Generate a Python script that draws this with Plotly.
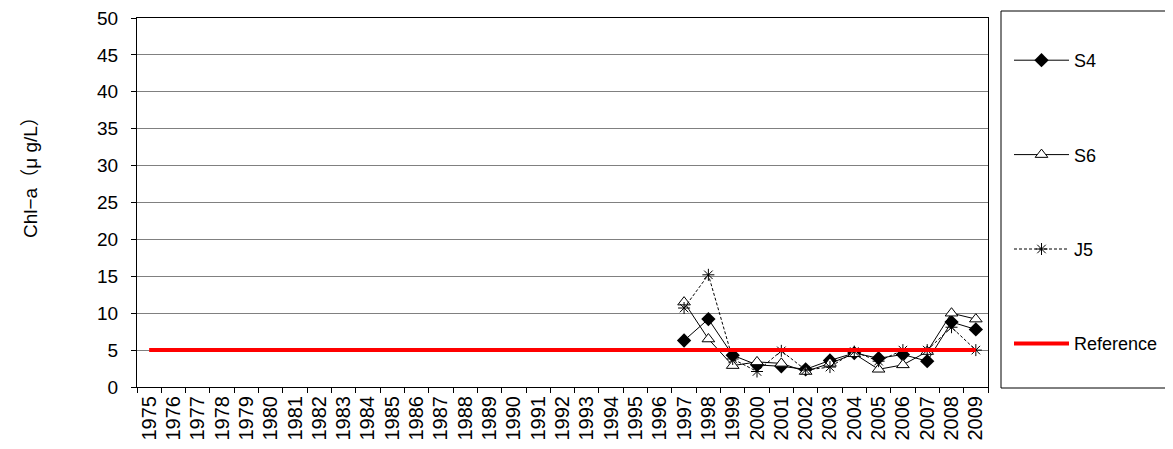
import plotly.graph_objects as go

years = [str(y) for y in range(1975, 2010)]
pad = [None] * 22  # 1975-1996 no data

s4_vals = [6.3, 9.2, 4.3, 3.0, 2.8, 2.4, 3.6, 4.6, 3.9, 4.4, 3.5, 8.8, 7.8]
s6_vals = [11.5, 6.5, 2.9, 3.4, 3.2, 2.1, 3.2, 4.5, 2.4, 3.0, 4.8, 10.0, 9.2]
j5_vals = [10.7, 15.2, 3.8, 2.1, 4.9, 2.3, 2.7, 4.8, 3.5, 5.0, 5.0, 8.1, 5.0]
reference = [5] * len(years)

S4 = pad + s4_vals
S6 = pad + s6_vals
J5 = pad + j5_vals

FONT = "Liberation Sans, Arial, Noto Sans CJK JP, sans-serif"

L, R, T, B = 129, 193, 10, 70
PW, PH = 1173 - L - R, 449 - T - B


def px(xp):
    return (xp - L) / PW


def py(yp):
    return (449 - B - yp) / PH


fig = go.Figure()
fig.add_trace(go.Scatter(
    x=years, y=S4, name="S4", mode="lines+markers", legendgroup="a",
    line=dict(color="black", width=1),
    marker=dict(symbol="diamond", size=11, color="black"),
))
fig.add_trace(go.Scatter(
    x=years, y=S6, name="S6", mode="lines+markers", legendgroup="b",
    line=dict(color="black", width=1),
    marker=dict(symbol="triangle-up", size=11, color="white",
                line=dict(color="black", width=1)),
))
fig.add_trace(go.Scatter(
    x=years, y=J5, name="J5", mode="lines+markers", legendgroup="c",
    line=dict(color="black", width=1, dash="3px,2px"),
    marker=dict(symbol="asterisk-open", size=10, color="black",
                line=dict(color="black", width=1)),
))
fig.add_trace(go.Scatter(
    x=years, y=reference, name="Reference", mode="lines", legendgroup="d",
    line=dict(color="#ff0000", width=4),
))

fig.update_layout(
    width=1173, height=449,
    margin=dict(l=L, r=R, t=T, b=B, autoexpand=False),
    paper_bgcolor="white", plot_bgcolor="white",
    font=dict(family=FONT, size=18, color="black"),
    showlegend=True,
    legend=dict(
        x=px(1001), y=py(34), xanchor="left", yanchor="top",
        bgcolor="rgba(0,0,0,0)", borderwidth=0, itemwidth=55,
        tracegroupgap=68, font=dict(size=18),
    ),
    xaxis=dict(
        type="category", range=[-0.5, 34.5], showline=True, linecolor="black",
        linewidth=1, mirror=True, ticks="outside", tickson="boundaries",
        ticklen=5, tickcolor="black", tickangle=-90, showgrid=False,
        tickfont=dict(size=20), automargin=False,
    ),
    yaxis=dict(
        range=[0, 50], dtick=5, showline=True, linecolor="black",
        linewidth=1, mirror=True, ticks="outside", ticklen=5,
        tickcolor="black", showgrid=True, gridcolor="#808080",
        gridwidth=1, tickfont=dict(size=19), zeroline=False,
        ticklabeloverflow="allow", automargin=False, ticklabelstandoff=9,
    ),
    shapes=[dict(type="rect", xref="paper", yref="paper",
                 x0=px(993), x1=px(1164), y0=py(380), y1=py(3),
                 line=dict(color="black", width=1), fillcolor="rgba(0,0,0,0)")],
    annotations=[dict(text="Chl−a（μ g/L）", xref="paper", yref="paper",
                      x=px(22), y=py(164), xanchor="center", yanchor="middle",
                      showarrow=False, textangle=-90, font=dict(size=19))],
)

fig.write_html("out.html")
